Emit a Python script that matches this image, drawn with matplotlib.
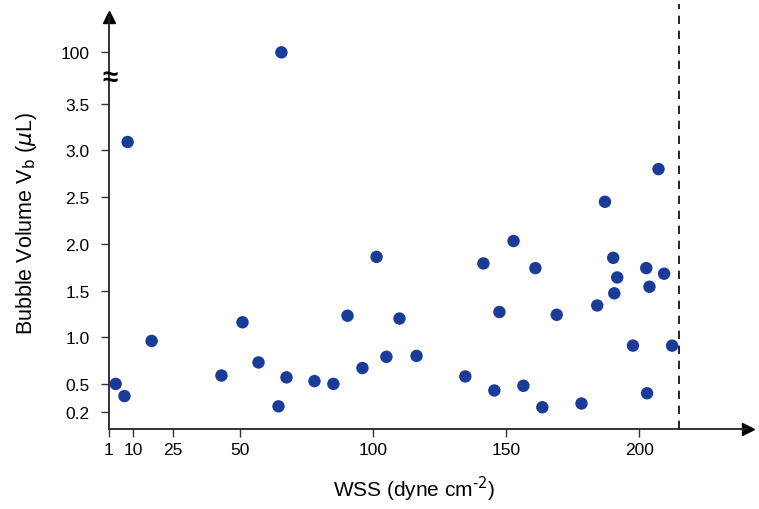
import matplotlib
matplotlib.use('Agg')
from matplotlib import pyplot as plt

# WSS (dyne cm^-2) and bubble volume (uL)
wss = [3.5, 6.8, 8.0, 17.0, 43.2, 51.1, 57.1, 64.6, 65.7, 67.6, 78.1, 85.2, 90.5, 96.1,
       101.4, 105.1, 110.0, 116.4, 134.7, 141.5, 145.6, 147.5, 152.8, 156.5, 161.0, 163.6,
       169.0, 178.3, 184.2, 187.1, 190.2, 190.6, 191.7, 197.6, 202.6, 202.9, 203.8, 207.2,
       209.3, 212.3]
volume = [0.50, 0.37, 3.09, 0.96, 0.59, 1.16, 0.73, 0.26, 100.0, 0.57, 0.53, 0.50, 1.23, 0.67,
          1.86, 0.79, 1.20, 0.80, 0.58, 1.79, 0.43, 1.27, 2.03, 0.48, 1.74, 0.25,
          1.24, 0.29, 1.34, 2.45, 1.85, 1.47, 1.64, 0.91, 1.74, 0.40, 1.54, 2.80,
          1.68, 0.91]

xTicks = [1, 10, 25, 50, 100, 150, 200]
yTicks = [0.2, 0.5, 1.0, 1.5, 2.0, 2.5, 3.0, 3.5]
yTickLabels = ['0.2', '0.5', '1.0', '1.5', '2.0', '2.5', '3.0', '3.5']
bigValue = 100
bigLabel = '100'
limitWSS = 215

# Broken axis: values above the break are drawn at this position
breakAt = 3.77
bigPos = 4.05

plt.rcParams['font.family'] = ['Liberation Sans', 'DejaVu Sans']

fig = plt.figure(figsize=(7.59, 5.10), dpi=100)
ax = fig.add_axes([0.1436, 0.157, 0.842, 0.808])

yPlot = [bigPos if v >= bigValue else v for v in volume]
ax.scatter(wss, yPlot, s=80, color='#1a3c98', edgecolors='none', zorder=3, clip_on=False)

ax.set_xlim(1.24, 240.8)
ax.set_ylim(0.018, 4.43)

ax.set_xticks(xTicks)
ax.set_xticklabels([str(t) for t in xTicks])
ax.set_yticks(yTicks + [bigPos])
ax.set_yticklabels(yTickLabels + [bigLabel])
ax.tick_params(axis='both', labelsize=12.5, direction='out', length=6, width=1, color='#333333')
ax.tick_params(axis='y', pad=8)

for side in ['top', 'right']:
    ax.spines[side].set_visible(False)
for side in ['left', 'bottom']:
    ax.spines[side].set_linewidth(1.3)
    ax.spines[side].set_color('#222222')

# Arrow heads at the axis ends
ax.plot(1, 0, '>', color='black', markersize=8, transform=ax.transAxes, clip_on=False)
ax.plot(0, 1, '^', color='black', markersize=8, transform=ax.transAxes, clip_on=False)

# Axis break symbol
ax.text(1.24, breakAt, '\u2248', fontsize=20, ha='center', va='center', fontweight='bold')

# Dashed limit line
ax.axvline(limitWSS, ymin=0, ymax=1.03, color='black', linestyle=(0, (5, 4)), linewidth=1.2,
           clip_on=False)

ax.set_xlabel('WSS (dyne cm$^{\\text{-2}}$)', fontsize=15)
ax.xaxis.set_label_coords(0.477, -0.11)
ax.set_ylabel('Bubble Volume V$_{\\mathrm{b}}$ ($\\mu$L)', fontsize=15.5)
ax.yaxis.set_label_coords(-0.11, 0.5)

plt.savefig('out.png', dpi=100)
